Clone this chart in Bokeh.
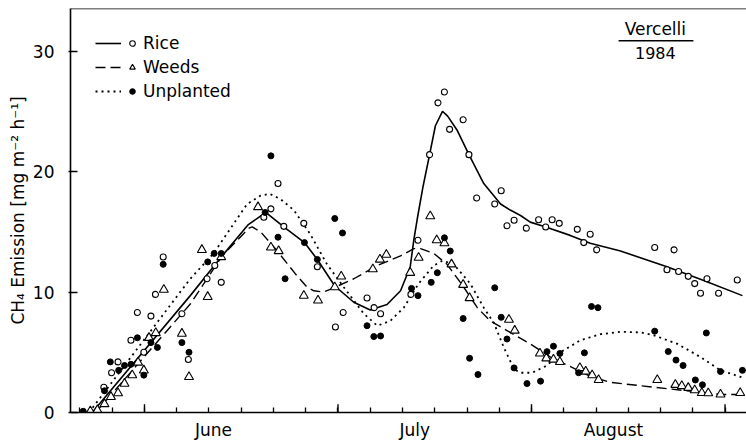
from bokeh.plotting import figure
from bokeh.models import FixedTicker, Legend, LegendItem, Label, Span
from bokeh.embed import file_html
from bokeh.resources import INLINE

# ---------------- data (days after 1 June, CH4 emission mg m-2 h-1) ----------------
rice_day = [-6.3, -5.1, -4.1, -2.1, -1.1, -0.1, 1.0, 1.7, 2.9, 5.8, 6.8, 9.7, 10.9, 11.9,
            18.5, 19.6, 20.7, 21.6, 24.7, 26.8, 29.6, 30.8, 34.5, 35.6, 36.6, 41.3, 42.4,
            44.2, 45.5, 46.5, 47.3, 49.4, 50.3, 51.5, 54.3, 55.3, 56.2, 57.3, 59.2, 61.1,
            62.2, 63.2, 64.3, 67.1, 68.1, 69.1, 70.1, 79.1, 81.0, 82.1, 82.8, 84.3, 85.3,
            86.2, 87.2, 89.0, 91.9]
rice_val = [2.1, 3.3, 4.2, 6.0, 8.3, 5.0, 8.0, 9.8, 12.9, 8.2, 4.4, 11.1, 12.2, 10.8,
            16.2, 16.9, 19.0, 15.45, 15.7, 12.1, 7.1, 8.3, 9.5, 8.7, 8.2, 9.8, 14.3,
            21.4, 25.7, 26.6, 23.5, 24.3, 21.4, 17.8, 17.3, 18.4, 15.5, 15.95, 15.3, 16.0,
            15.4, 16.0, 15.7, 15.2, 14.1, 14.8, 13.5, 13.7, 11.85, 13.5, 11.7, 11.3, 10.7,
            9.9, 11.1, 9.9, 11.0]

weeds_day = [-8.4, -7.3, -6.2, -5.2, -4.1, -3.1, -1.9, -1.0, -0.1, 0.7, 1.75, 3.0, 5.8, 6.9,
             8.9, 9.8, 11.9, 17.6, 19.6, 20.8, 24.7, 26.9, 29.5, 30.5, 35.4, 36.5, 37.5,
             41.2, 42.5, 44.3, 45.3, 46.5, 47.6, 49.4, 50.4, 56.5, 57.4, 61.3, 62.3, 63.4,
             64.4, 67.5, 68.4, 69.4, 70.4, 79.5, 82.3, 83.3, 84.3, 85.3, 86.4, 87.4, 89.3, 92.35]
weeds_val = [0.1, 0.2, 0.7, 1.3, 1.6, 2.4, 3.1, 4.15, 3.5, 6.2, 6.6, 10.2, 6.55, 2.95,
             13.5, 9.6, 12.9, 17.05, 13.7, 13.4, 9.7, 9.3, 10.4, 11.3, 11.9, 12.7, 13.1,
             11.6, 12.85, 16.3, 14.3, 14.05, 12.3, 10.6, 9.5, 7.7, 6.8, 4.9, 4.5, 4.4,
             4.2, 3.7, 3.4, 3.1, 2.7, 2.7, 2.3, 2.2, 2.05, 1.85, 1.63, 1.6, 1.5, 1.63]

unpl_day = [-9.5, -6.2, -5.3, -4.0, -3.1, -2.1, -1.1, -0.1, 1.0, 2.0, 2.9, 5.8, 6.9, 9.8,
            10.8, 11.9, 18.7, 19.6, 20.7, 21.8, 24.8, 26.8, 29.5, 30.7, 34.5, 35.55, 36.6,
            41.4, 42.4, 44.45, 45.4, 46.5, 47.4, 49.4, 50.4, 51.7, 54.3, 55.3, 56.2, 57.3,
            59.3, 61.4, 62.4, 63.4, 64.4, 67.3, 68.2, 69.3, 70.3, 79.1, 81.2, 82.4, 83.5,
            85.4, 86.5, 87.1, 89.3, 92.7]
unpl_val = [0.1, 1.8, 4.2, 3.5, 3.9, 4.0, 6.2, 3.1, 5.8, 5.4, 12.3, 5.8, 5.0, 12.5,
            13.2, 13.2, 16.6, 21.3, 14.55, 11.1, 14.1, 12.7, 16.1, 14.9, 7.2, 6.3, 6.35,
            10.3, 9.7, 10.8, 11.6, 14.5, 13.4, 7.8, 4.5, 3.15, 10.35, 7.9, 6.1, 3.7,
            2.4, 2.6, 5.05, 5.5, 4.9, 3.3, 4.95, 8.8, 8.7, 6.75, 5.06, 4.35, 3.9,
            2.7, 2.3, 6.6, 3.4, 3.5]

# fitted curves
rice_fit_day = [-8.1, 7.1, 12.05, 16.1, 18.8, 21.6, 24.8, 26.8, 29.5, 32.45, 35.0, 37.6,
                39.7, 41.2, 41.75, 42.3, 43.2, 44.2, 45.1, 46.2, 47.0, 48.5, 50.3, 52.6,
                55.2, 56.7, 58.3, 59.8, 62.2, 66.0, 69.1, 73.8, 81.0, 86.7, 92.7]
rice_fit_val = [0.0, 9.7, 13.0, 15.6, 16.6, 15.4, 14.1, 12.7, 10.5, 9.15, 8.5, 8.96,
                10.1, 12.1, 14.3, 16.1, 18.8, 21.4, 23.8, 25.0, 24.6, 23.4, 21.4, 19.0,
                17.3, 16.8, 16.35, 15.8, 15.4, 14.7, 14.05, 13.4, 12.1, 10.95, 9.7]

weeds_fit_day = [-7.6, 7.1, 12.05, 16.2, 16.7, 18.0, 20.6, 23.4, 25.2, 26.25, 27.8, 29.35,
                 32.45, 36.1, 39.7, 41.75, 42.8, 44.85, 46.9, 49.5, 51.6, 53.6, 56.2, 59.8,
                 62.95, 66.05, 69.15, 72.25, 79.0, 84.1, 89.3, 92.7]
weeds_fit_val = [0.0, 9.0, 13.0, 15.3, 15.4, 15.0, 13.4, 11.5, 10.4, 10.1, 10.0, 10.35,
                 11.1, 12.2, 13.0, 13.6, 13.6, 13.2, 12.3, 10.4, 8.7, 7.6, 6.8, 5.7,
                 4.6, 3.8, 3.0, 2.5, 2.1, 1.8, 1.5, 1.5]

unpl_fit_day = [-8.6, 7.1, 10.7, 15.9, 18.0, 19.4, 21.1, 23.15, 25.7, 28.3, 30.9, 34.0,
                36.1, 38.1, 40.2, 42.5, 44.85, 46.2, 47.95, 50.5, 52.6, 54.2, 55.7, 57.3,
                58.3, 60.1, 62.4, 64.5, 67.6, 70.7, 73.8, 76.9, 79.0, 82.6, 86.2, 89.3, 92.7]
unpl_fit_val = [0.0, 11.1, 13.2, 17.3, 18.0, 18.15, 17.7, 16.8, 14.8, 12.3, 10.4, 8.2,
                7.2, 7.6, 8.7, 10.7, 12.2, 12.6, 12.3, 10.7, 8.7, 7.4, 5.4, 3.6,
                3.3, 3.3, 3.9, 5.0, 6.0, 6.5, 6.7, 6.65, 6.4, 5.7, 4.6, 3.5, 2.9]

months = ["June", "July", "August"]
month_label_pos = [10.7, 41.9, 72.7]
month_bounds = [0, 30, 60, 90]
minor_days = [-10, -5, 0, 5, 10, 15, 20, 25, 30, 35, 40, 45, 50, 55, 60, 65, 70, 75, 80, 85, 90]
y_ticks = [0, 10, 20, 30]

FONT = "DejaVu Sans"
FS = "17px"
Y_TOP = 33.53

p = figure(width=746, height=443, x_range=(-11.47, 93.33), y_range=(0, Y_TOP),
           output_backend="svg", toolbar_location=None,
           min_border_left=70, min_border_right=0, min_border_top=8, min_border_bottom=31)
p.outline_line_color = None
p.xgrid.visible = False
p.ygrid.visible = False
p.background_fill_color = "white"
p.border_fill_color = "white"

# axes
xa = p.xaxis[0]
xa.ticker = FixedTicker(ticks=month_label_pos, minor_ticks=minor_days)
xa.major_label_overrides = {m: t for m, t in zip(month_label_pos, months)}
xa.major_tick_in = 0
xa.major_tick_out = 0
xa.minor_tick_in = 5
xa.minor_tick_out = 0
xa.minor_tick_line_width = 1.3
xa.axis_line_width = 1.6
xa.major_label_standoff = 7
xa.major_label_text_font = FONT
xa.major_label_text_font_size = FS
xa.major_label_text_color = "black"

ya = p.yaxis[0]
ya.ticker = FixedTicker(ticks=y_ticks, minor_ticks=[])
ya.major_tick_in = 7
ya.major_tick_out = 2
ya.major_tick_line_width = 1.4
ya.axis_line_width = 1.6
ya.major_label_standoff = 14
ya.major_label_text_font = FONT
ya.major_label_text_font_size = FS
ya.major_label_text_color = "black"
ya.axis_label = "CH\u2084 Emission [mg m\u207b\u00b2 h\u207b\u00b9]"
ya.axis_label_text_font = FONT
ya.axis_label_text_font_size = FS
ya.axis_label_text_font_style = "normal"
ya.axis_label_text_color = "black"
ya.axis_label_standoff = 2

# longer ticks at month boundaries
p.segment(x0=month_bounds, y0=[0] * 4, x1=month_bounds, y1=[0.68] * 4,
          line_color="black", line_width=1.4)

# top frame line
p.add_layout(Span(location=Y_TOP, dimension="width", line_color="black", line_width=1.6))

# curves
l_rice = p.line(rice_fit_day, rice_fit_val, line_color="black", line_width=1.6)
l_weeds = p.line(weeds_fit_day, weeds_fit_val, line_color="black", line_width=1.4,
                 line_dash="10 5")
l_unpl = p.line(unpl_fit_day, unpl_fit_val, line_color="black", line_width=1.8,
                line_dash="2 4")

# points
s_weeds = p.scatter(weeds_day, weeds_val, marker="triangle", size=9, fill_color="white",
                    line_color="black", line_width=1.1)
s_rice = p.scatter(rice_day, rice_val, marker="circle", size=6, fill_color="white",
                   line_color="black", line_width=1.1)
s_unpl = p.scatter(unpl_day, unpl_val, marker="circle", size=6, fill_color="black",
                   line_color="black")

# legend: lines column + markers/labels column
common = dict(background_fill_alpha=0, border_line_color=None, padding=0, margin=0,
              spacing=4, glyph_height=20, label_height=20,
              label_text_font=FONT, label_text_font_size=FS, label_text_color="black")
leg_lines = Legend(items=[LegendItem(label=" ", renderers=[l_rice]),
                          LegendItem(label=" ", renderers=[l_weeds]),
                          LegendItem(label=" ", renderers=[l_unpl])],
                   location=(25, 311), glyph_width=26, label_standoff=0, label_width=1, **common)
leg_marks = Legend(items=[LegendItem(label="Rice", renderers=[s_rice]),
                          LegendItem(label="Weeds", renderers=[s_weeds]),
                          LegendItem(label="Unplanted", renderers=[s_unpl])],
                   location=(55, 311), glyph_width=14, label_standoff=4, **common)
p.add_layout(leg_lines)
p.add_layout(leg_marks)

# site / year label
p.add_layout(Label(x=79.2, y=31.85, text="Vercelli", text_align="center",
                   text_baseline="alphabetic", text_font=FONT, text_font_size=FS,
                   text_color="black"))
p.add_layout(Label(x=79.2, y=29.86, text="1984", text_align="center",
                   text_baseline="alphabetic", text_font=FONT, text_font_size="16px",
                   text_color="black"))
p.segment(x0=[73.5], y0=[30.85], x1=[85.1], y1=[30.85], line_color="black", line_width=1.4)

open("out.html", "w").write(file_html(p, INLINE))
